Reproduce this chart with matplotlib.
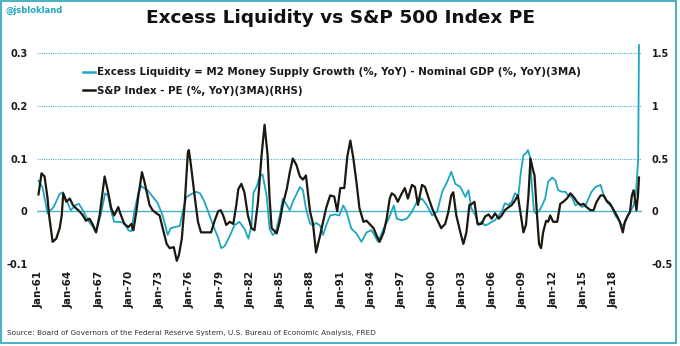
import matplotlib
matplotlib.use("Agg")
import matplotlib.pyplot as plt
from matplotlib.lines import Line2D
from matplotlib.patches import Rectangle

# Excess liquidity (LHS): decimal year / value
el_years = [1961.0, 1961.4, 1961.9, 1962.5, 1963.1, 1963.4, 1963.7, 1964.2, 1964.7, 1965.0,
            1965.4, 1965.9, 1966.4, 1966.7, 1967.2, 1967.6, 1967.9, 1968.2, 1968.5, 1969.0,
            1969.5, 1969.9, 1970.2, 1970.5, 1970.9, 1971.2, 1971.5, 1971.8, 1972.3, 1972.8,
            1973.3, 1973.8, 1974.1, 1974.5, 1975.0, 1975.3, 1975.65, 1976.1, 1976.6, 1977.0,
            1977.4, 1977.8, 1978.3, 1978.8, 1979.1, 1979.45, 1980.0, 1980.4, 1980.9, 1981.4,
            1981.8, 1982.1, 1982.3, 1982.6, 1982.9, 1983.2, 1983.6, 1983.9, 1984.2, 1984.5,
            1984.9, 1985.2, 1985.5, 1985.9, 1986.2, 1986.5, 1986.9, 1987.2, 1987.5, 1987.9,
            1988.2, 1988.5, 1988.9, 1989.2, 1989.5, 1989.9, 1990.4, 1990.8, 1991.2, 1991.5,
            1992.0, 1992.5, 1993.0, 1993.5, 1994.0, 1994.65, 1995.2, 1995.7, 1996.2, 1996.5,
            1997.0, 1997.5, 1998.0, 1998.5, 1999.0, 1999.5, 2000.0, 2000.5, 2001.0, 2001.5,
            2001.9, 2002.3, 2002.8, 2003.3, 2003.6, 2003.9, 2004.3, 2004.6, 2004.9, 2005.25,
            2005.6, 2005.9, 2006.24, 2006.6, 2006.9, 2007.2, 2007.55, 2007.9, 2008.2, 2008.55,
            2008.8, 2009.05, 2009.3, 2009.5, 2009.7, 2009.9, 2010.1, 2010.3, 2010.6, 2010.9,
            2011.2, 2011.5, 2011.9, 2012.2, 2012.5, 2012.85, 2013.2, 2013.5, 2013.85, 2014.2,
            2014.5, 2014.85, 2015.2, 2015.5, 2015.8, 2016.2, 2016.7, 2017.0, 2017.3, 2017.8,
            2018.15, 2018.5, 2018.8, 2019.1, 2019.4, 2019.7, 2019.97, 2020.2, 2020.42, 2020.5]
el_vals = [0.058, 0.045, -0.004, 0.008, 0.033, 0.036, 0.024, 0.002, 0.012, 0.014,
           0.002, -0.017, -0.030, -0.040, -0.004, 0.034, 0.030, 0.000, -0.020, -0.020,
           -0.022, -0.036, -0.038, 0.000, 0.035, 0.048, 0.043, 0.040, 0.028, 0.016,
           -0.008, -0.045, -0.032, -0.030, -0.028, 0.000, 0.027, 0.032, 0.037, 0.034,
           0.020, 0.000, -0.027, -0.050, -0.070, -0.066, -0.045, -0.027, -0.020, -0.033,
           -0.052, -0.027, 0.035, 0.046, 0.065, 0.070, 0.030, -0.033, -0.045, -0.040,
           -0.008, 0.024, 0.015, 0.002, 0.018, 0.030, 0.046, 0.040, 0.005, -0.023,
           -0.027, -0.022, -0.027, -0.045, -0.027, -0.008, -0.006, -0.008, 0.011, 0.000,
           -0.033, -0.042, -0.058, -0.040, -0.036, -0.058, -0.033, -0.014, 0.011, -0.014,
           -0.017, -0.014, -0.001, 0.018, 0.024, 0.011, -0.008, -0.001, 0.037, 0.056,
           0.075, 0.052, 0.046, 0.027, 0.040, 0.005, -0.008, -0.027, -0.020, -0.027,
           -0.024, -0.020, -0.017, -0.008, -0.001, 0.015, 0.012, 0.018, 0.034, 0.030,
           0.075, 0.106, 0.110, 0.116, 0.103, 0.046, -0.001, -0.004, 0.000, 0.011,
           0.024, 0.056, 0.064, 0.059, 0.040, 0.037, 0.037, 0.030, 0.027, 0.011,
           0.015, 0.008, 0.011, 0.024, 0.037, 0.046, 0.050, 0.030, 0.018, 0.008,
           -0.008, -0.017, -0.027, -0.023, -0.008, 0.002, 0.011, 0.034, 0.097, 0.315]

# S&P 500 PE (RHS)
pe_years = [1961.0, 1961.3, 1961.6, 1961.9, 1962.05, 1962.4, 1962.75, 1963.1, 1963.3, 1963.45,
            1963.75, 1964.1, 1964.4, 1964.7, 1965.05, 1965.4, 1965.7, 1966.05, 1966.4, 1966.7,
            1967.05, 1967.4, 1967.55, 1967.9, 1968.2, 1968.5, 1968.9, 1969.1, 1969.5, 1969.9,
            1970.2, 1970.4, 1970.7, 1970.9, 1971.25, 1971.5, 1972.0, 1972.3, 1972.7, 1973.0,
            1973.3, 1973.7, 1974.0, 1974.4, 1974.7, 1974.9, 1975.2, 1975.5, 1975.8, 1975.9,
            1976.1, 1976.5, 1976.8, 1977.1, 1977.6, 1978.1, 1978.45, 1978.8, 1979.05, 1979.3,
            1979.6, 1979.95, 1980.3, 1980.6, 1980.8, 1981.1, 1981.4, 1981.75, 1982.1, 1982.4,
            1982.75, 1983.1, 1983.4, 1983.7, 1983.9, 1984.1, 1984.6, 1984.9, 1985.2, 1985.6,
            1985.9, 1986.2, 1986.55, 1986.9, 1987.2, 1987.5, 1987.9, 1988.2, 1988.5, 1988.9,
            1989.2, 1989.5, 1989.9, 1990.3, 1990.6, 1990.9, 1991.3, 1991.6, 1991.9, 1992.2,
            1992.5, 1992.8, 1993.2, 1993.5, 1993.8, 1994.2, 1994.5, 1994.8, 1995.2, 1995.5,
            1995.8, 1996.0, 1996.3, 1996.6, 1997.0, 1997.3, 1997.6, 1998.0, 1998.3, 1998.6,
            1999.0, 1999.3, 1999.6, 2000.0, 2000.3, 2000.6, 2000.9, 2001.3, 2001.6, 2001.9,
            2002.1, 2002.4, 2002.8, 2003.1, 2003.4, 2003.7, 2003.95, 2004.2, 2004.5, 2004.9,
            2005.25, 2005.6, 2005.9, 2006.24, 2006.6, 2006.9, 2007.2, 2007.6, 2007.9, 2008.2,
            2008.5, 2008.8, 2009.05, 2009.3, 2009.55, 2009.75, 2009.95, 2010.15, 2010.4, 2010.6,
            2010.8, 2011.0, 2011.3, 2011.5, 2011.7, 2012.0, 2012.4, 2012.7, 2013.0, 2013.35,
            2013.7, 2014.0, 2014.35, 2014.7, 2015.0, 2015.3, 2015.7, 2016.0, 2016.3, 2016.7,
            2017.0, 2017.3, 2017.65, 2018.0, 2018.3, 2018.6, 2018.9, 2019.1, 2019.4, 2019.6,
            2019.8, 2019.97, 2020.1, 2020.25, 2020.4, 2020.5]
pe_vals = [0.16, 0.36, 0.33, 0.12, -0.04, -0.29, -0.26, -0.16, -0.04, 0.17,
           0.09, 0.12, 0.06, 0.03, 0.00, -0.04, -0.09, -0.07, -0.13, -0.20,
           -0.04, 0.22, 0.33, 0.18, 0.03, -0.04, 0.04, -0.02, -0.12, -0.15,
           -0.12, -0.18, 0.00, 0.15, 0.37, 0.28, 0.06, 0.01, -0.02, -0.04,
           -0.16, -0.31, -0.35, -0.34, -0.47, -0.42, -0.26, 0.09, 0.56, 0.58,
           0.44, 0.12, -0.10, -0.20, -0.20, -0.20, -0.09, 0.00, 0.01, -0.04,
           -0.13, -0.10, -0.12, 0.06, 0.21, 0.26, 0.18, -0.04, -0.16, -0.18,
           0.09, 0.53, 0.82, 0.53, 0.12, -0.16, -0.21, -0.10, 0.06, 0.21,
           0.37, 0.50, 0.44, 0.33, 0.30, 0.34, 0.00, -0.12, -0.39, -0.23,
           -0.10, 0.03, 0.15, 0.14, 0.00, 0.22, 0.22, 0.52, 0.67, 0.50,
           0.28, 0.03, -0.10, -0.09, -0.12, -0.16, -0.23, -0.29, -0.20, -0.07,
           0.12, 0.17, 0.15, 0.09, 0.17, 0.22, 0.12, 0.25, 0.23, 0.06,
           0.25, 0.23, 0.14, 0.03, -0.04, -0.10, -0.16, -0.12, -0.01, 0.15,
           0.18, -0.04, -0.20, -0.31, -0.20, 0.06, 0.07, 0.09, -0.12, -0.12,
           -0.05, -0.03, -0.07, -0.02, -0.07, -0.04, 0.01, 0.04, 0.06, 0.10,
           0.15, -0.04, -0.20, -0.13, 0.15, 0.50, 0.41, 0.34, -0.04, -0.31,
           -0.35, -0.20, -0.09, -0.10, -0.04, -0.10, -0.10, 0.07, 0.09, 0.12,
           0.17, 0.14, 0.09, 0.06, 0.07, 0.04, 0.01, 0.01, 0.09, 0.15,
           0.15, 0.10, 0.07, 0.01, -0.04, -0.10, -0.20, -0.10, -0.04, -0.01,
           0.15, 0.20, 0.12, 0.01, 0.15, 0.32]

tick_years = list(range(1961, 2019, 3))
tick_labels = ["Jan-%02d" % (y % 100) for y in tick_years]
left_ticks = [-0.1, 0, 0.1, 0.2, 0.3]
left_labels = ["-0.1", "0", "0.1", "0.2", "0.3"]
right_ticks = [-0.5, 0, 0.5, 1, 1.5]
right_labels = ["-0.5", "0", "0.5", "1", "1.5"]

TEAL = "#1ea6c1"
GRID = "#4fb2c6"
DARK = "#1c1810"
TXT = "#1a1a1a"

fig = plt.figure(figsize=(6.8, 3.46), dpi=100)
ax = fig.add_axes([37 / 680, (346 - 264) / 346, (642 - 37) / 680, (264 - 42.5) / 346])
ax.set_ylim(-0.1, 0.32)
ax.set_xlim(1960.85, 2020.8)
ax2 = ax.twinx()
ax2.set_ylim(-0.5, 1.6)

for t in left_ticks:
    if t == 0:
        ax.axhline(t, color=GRID, lw=1.0, zorder=1)
    else:
        ax.axhline(t, color=GRID, lw=0.8, ls=(0, (1, 1)), zorder=1)

ax.plot(el_years, el_vals, color=TEAL, lw=1.3, zorder=3)
ax2.plot(pe_years, pe_vals, color=DARK, lw=1.6, zorder=3)

for a in (ax, ax2):
    for s in a.spines.values():
        s.set_visible(False)
    a.tick_params(length=0)

ax.set_yticks(left_ticks)
ax.set_yticklabels(left_labels, fontsize=7, fontweight="bold", color=TXT)
ax.tick_params(axis="y", pad=7)
ax2.set_yticks(right_ticks)
ax2.set_yticklabels(right_labels, fontsize=7, fontweight="bold", color=TXT)
ax2.tick_params(axis="y", pad=7)
ax.set_xticks(tick_years)
ax.set_xticklabels(tick_labels, rotation=90, fontsize=7.5, fontweight="bold", color=TXT)
ax.tick_params(axis="x", pad=5)

handles = [Line2D([], [], color=TEAL, lw=1.8), Line2D([], [], color=DARK, lw=1.8)]
labels = ["Excess Liquidity = M2 Money Supply Growth (%, YoY) - Nominal GDP (%, YoY)(3MA)",
          "S&P Index - PE (%, YoY)(3MA)(RHS)"]
leg = fig.legend(handles, labels, loc="upper left", bbox_to_anchor=(78 / 680, 1 - 62 / 346),
                 frameon=False, borderpad=0, handlelength=1.2, handletextpad=0.2,
                 labelspacing=0.85, prop={"size": 7.35, "weight": "bold"})
for t in leg.get_texts():
    t.set_color(TXT)

fig.text(0.5, 1 - 18 / 346, "Excess Liquidity vs S&P 500 Index PE", ha="center", va="center",
         fontsize=13.3, fontweight="bold", color="#111111")
fig.text(6 / 680, 1 - 10 / 346, "@jsblokland", ha="left", va="center", fontsize=6,
         fontweight="bold", color=TEAL)
fig.text(7 / 680, 1 - 333 / 346,
         "Source: Board of Governors of the Federal Reserve System, U.S. Bureau of Economic Analysis, FRED",
         ha="left", va="center", fontsize=5.3, color="#333333")

fig.add_artist(Rectangle((1 / 680, 3 / 346), 675 / 680, 342 / 346, transform=fig.transFigure,
                         fill=False, ec=GRID, lw=1.5))

fig.savefig("out.png", dpi=100)
